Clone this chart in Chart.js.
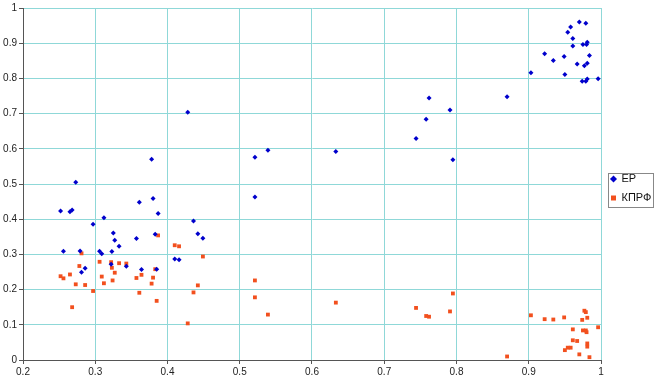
<!DOCTYPE html>
<html>
<head>
<meta charset="utf-8">
<script src="https://cdn.jsdelivr.net/npm/chart.js@4/dist/chart.umd.min.js"></script>
<style>
html,body{margin:0;padding:0;background:#fff;}
#wrap{width:655px;height:383px;position:relative;}
</style>
</head>
<body>
<div id="wrap"><canvas id="c" width="655" height="383"></canvas></div>
<script>
const seriesNames = ["ЕР", "КПРФ"];
const xTicks = [0.2, 0.3, 0.4, 0.5, 0.6, 0.7, 0.8, 0.9, 1];
const yTicks = [0, 0.1, 0.2, 0.3, 0.4, 0.5, 0.6, 0.7, 0.8, 0.9, 1];

const erX = [0.252,0.256,0.265,0.268,0.273,0.279,0.281,0.286,0.297,0.306,0.309,0.312,0.323,0.322,0.325,0.327,0.333,0.343,0.357,0.361,0.364,0.378,0.380,0.383,0.385,0.387,0.410,0.416,0.428,0.436,0.442,0.449,0.521,0.521,0.539,0.633,0.744,0.758,0.762,0.791,0.795,0.870,0.903,0.922,0.934,0.949,0.950,0.954,0.958,0.961,0.961,0.967,0.970,0.974,0.975,0.977,0.979,0.979,0.980,0.981,0.981,0.981,0.984,0.996];
const erY = [0.423,0.309,0.421,0.426,0.505,0.310,0.249,0.261,0.386,0.309,0.302,0.404,0.308,0.272,0.361,0.340,0.323,0.266,0.345,0.448,0.257,0.570,0.459,0.357,0.258,0.416,0.287,0.285,0.704,0.395,0.359,0.346,0.576,0.463,0.596,0.592,0.629,0.684,0.744,0.710,0.569,0.748,0.816,0.870,0.851,0.862,0.811,0.931,0.946,0.913,0.892,0.841,0.960,0.792,0.896,0.836,0.957,0.792,0.896,0.843,0.798,0.903,0.865,0.799];

const kprfX = [0.252,0.256,0.265,0.268,0.273,0.278,0.281,0.286,0.297,0.306,0.309,0.312,0.322,0.323,0.324,0.327,0.333,0.343,0.357,0.361,0.364,0.378,0.380,0.383,0.385,0.387,0.410,0.416,0.428,0.436,0.442,0.449,0.521,0.521,0.539,0.633,0.744,0.758,0.762,0.791,0.795,0.870,0.903,0.922,0.934,0.949,0.950,0.954,0.958,0.961,0.961,0.967,0.970,0.974,0.975,0.977,0.979,0.979,0.980,0.981,0.981,0.981,0.984,0.996];
const kprfY = [0.238,0.232,0.243,0.150,0.215,0.267,0.303,0.213,0.196,0.279,0.237,0.218,0.278,0.262,0.226,0.248,0.275,0.274,0.233,0.191,0.242,0.217,0.234,0.258,0.168,0.354,0.326,0.323,0.104,0.192,0.212,0.294,0.226,0.178,0.129,0.163,0.148,0.125,0.123,0.138,0.189,0.010,0.127,0.116,0.115,0.121,0.028,0.035,0.035,0.087,0.056,0.054,0.016,0.114,0.084,0.140,0.136,0.084,0.079,0.120,0.038,0.047,0.008,0.093];

const toPts = (xs, ys) => xs.map((x, i) => ({x: x, y: ys[i]}));

const LEG_W = 54, LEG_DX = 2, LEG_DY = -7;

const legendShift = {
  id: 'legendShift',
  beforeLayout(chart) {
    const l = chart.legend;
    if (!l || l._wrapped) return;
    const orig = l.fit.bind(l);
    l.fit = function () { orig(); this.width = LEG_W; };
    l._wrapped = true;
  },
  afterLayout(chart) {
    const l = chart.legend;
    if (!l) return;
    l.left += LEG_DX; l.right += LEG_DX;
    l.top += LEG_DY; l.bottom += LEG_DY;
  },
  afterDraw(chart) {
    const l = chart.legend;
    if (!l || !l.legendHitBoxes || !l.legendHitBoxes.length) return;
    const hb = l.legendHitBoxes;
    const left = Math.min(...hb.map(b => b.left)) - 3;
    const right = Math.max(...hb.map(b => b.left + b.width)) + 2;
    const top = Math.min(...hb.map(b => b.top)) - 1;
    const bottom = Math.max(...hb.map(b => b.top + b.height)) + 3;
    const ctx = chart.ctx;
    ctx.save();
    ctx.strokeStyle = '#888';
    ctx.lineWidth = 1;
    ctx.strokeRect(Math.round(left) + 0.5, Math.round(top) + 0.5, Math.round(right - left), Math.round(bottom - top));
    ctx.restore();
  }
};

new Chart(document.getElementById('c'), {
  type: 'scatter',
  data: {
    datasets: [
      {label: seriesNames[0], data: toPts(erX, erY), pointStyle: 'rectRot', radius: 2.5, backgroundColor: '#0000cc', borderColor: '#0000cc', borderWidth: 0},
      {label: seriesNames[1], data: toPts(kprfX, kprfY), pointStyle: 'rect', radius: 2.7, backgroundColor: '#f2501e', borderColor: '#f2501e', borderWidth: 0}
    ]
  },
  options: {
    responsive: false,
    animation: false,
    events: [],
    layout: {padding: {top: 8, right: 0, bottom: 0, left: 0}},
    plugins: {
      tooltip: {enabled: false},
      legend: {
        position: 'right',
        labels: {
          usePointStyle: true,
          boxWidth: 5,
          boxHeight: 5,
          padding: 8,
          color: '#111',
          font: {family: 'Liberation Sans, Arial, sans-serif', size: 11}
        }
      }
    },
    scales: {
      x: {
        type: 'linear',
        min: 0.2, max: 1,
        afterBuildTicks: s => { s.ticks = xTicks.map(v => ({value: v})); },
        afterFit: s => { s.height = 23; },
        grid: {color: '#8fd8d8', lineWidth: 1, drawTicks: true, tickLength: 4, tickColor: '#555'},
        border: {color: '#555', width: 1},
        ticks: {color: '#222', font: {family: 'Liberation Sans, Arial, sans-serif', size: 10}, padding: 2, maxRotation: 0, callback: v => String(v)}
      },
      y: {
        type: 'linear',
        min: 0, max: 1,
        afterBuildTicks: s => { s.ticks = yTicks.map(v => ({value: v})); },
        afterFit: s => { s.width = 23; },
        grid: {color: '#8fd8d8', lineWidth: 1, drawTicks: true, tickLength: 4, tickColor: '#555'},
        border: {color: '#555', width: 1},
        ticks: {color: '#222', font: {family: 'Liberation Sans, Arial, sans-serif', size: 10}, padding: 2, callback: v => String(v)}
      }
    }
  },
  plugins: [legendShift]
});
</script>
</body>
</html>
